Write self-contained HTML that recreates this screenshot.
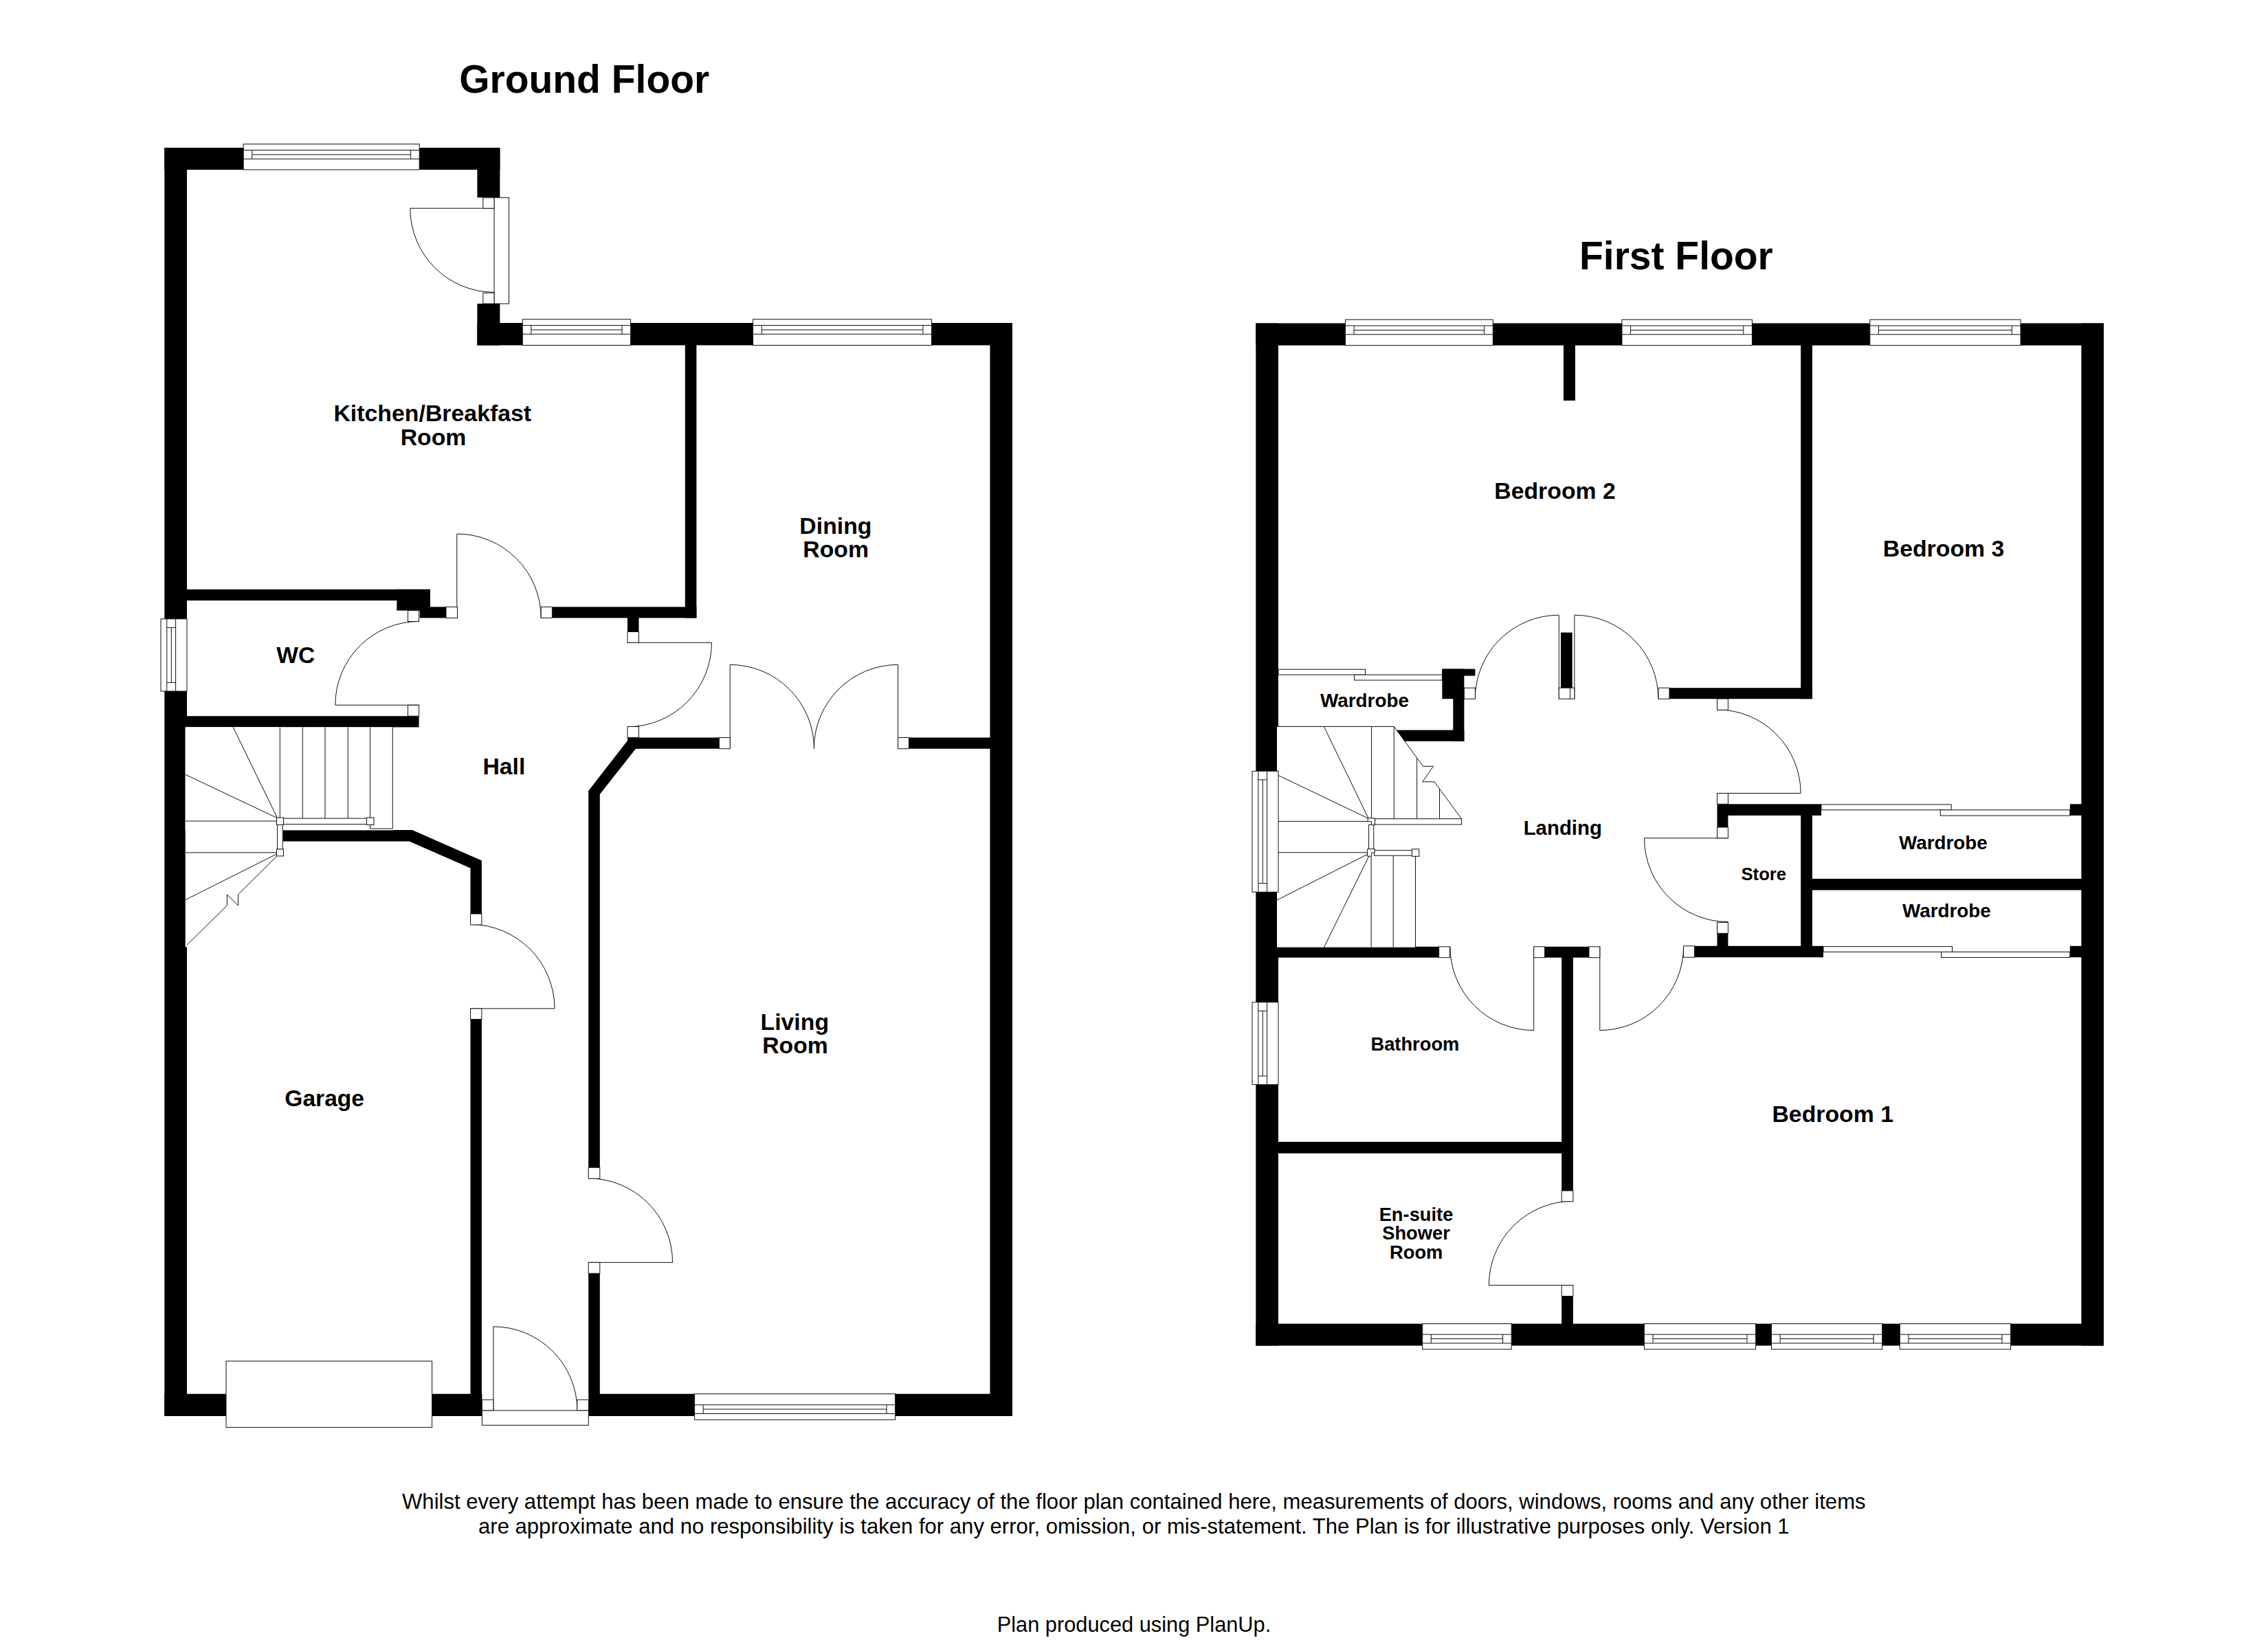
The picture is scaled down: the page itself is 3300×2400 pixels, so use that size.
<!DOCTYPE html>
<html><head><meta charset="utf-8"><title>Floor Plan</title>
<style>
html,body{margin:0;padding:0;background:#fff;}
body{width:3300px;height:2400px;overflow:hidden;}
svg{display:block;}
svg rect,svg polygon{fill:#000;}
svg .w{fill:#fff;}
svg .b{fill:#fff;stroke:#111;stroke-width:1.0;}
svg .l{fill:none;stroke:#111;stroke-width:1.0;}
svg text{font-family:"Liberation Sans",sans-serif;font-weight:bold;fill:#000;}
svg text.r{font-weight:normal;}
</style></head><body>
<svg width="3300" height="2400" viewBox="0 0 3300 2400">
<g id="ground">
<rect x="239.3" y="215" width="32.7" height="1846"/>
<rect x="239.3" y="215" width="488.1" height="32"/>
<rect x="694.4" y="215" width="33" height="72.7"/>
<rect x="694.4" y="442" width="33" height="60.5"/>
<rect x="694.4" y="470" width="778.6" height="32.5"/>
<rect x="1440.5" y="470" width="32.5" height="1591"/>
<rect x="239.3" y="2028.7" width="1233.7" height="32.3"/>
<rect x="996.8" y="501.5" width="16.6" height="397.9"/>
<rect x="803.4" y="883.3" width="210" height="16.1"/>
<rect x="271" y="857.8" width="355" height="16.2"/>
<rect x="577.3" y="857.8" width="48.7" height="30.8"/>
<rect x="610.8" y="883.3" width="38.2" height="16.1"/>
<rect x="913" y="899" width="16.5" height="20.5"/>
<rect x="913" y="1073.5" width="133.4" height="16.2"/>
<rect x="1322.5" y="1073.5" width="119" height="16.2"/>
<polygon points="913,1073.5 929.5,1073.5 929.5,1089.7 925,1089.7 872.8,1156 872.8,1700 856.2,1700 856.2,1151 913,1078"/>
<rect x="856.2" y="1853.3" width="16.6" height="176.4"/>
<rect x="271" y="1042.2" width="338.6" height="16.2"/>
<polygon points="411.7,1208 599.8,1208 700.9,1252.4 700.9,1330 684.5,1330 684.5,1263.4 595.5,1224.5 411.7,1224.5"/>
<rect x="684.5" y="1483.5" width="16.4" height="546.2"/>
</g>
<g id="gstairs">
<rect x="269.7" y="1058.4" width="302" height="150" class="w"/>
<rect x="269.7" y="1058.4" width="140" height="320" class="w"/>
<path class="l" d="M407.3 1058.4 L407.3 1191"/>
<path class="l" d="M440.3 1058.4 L440.3 1191"/>
<path class="l" d="M473 1058.4 L473 1191"/>
<path class="l" d="M506.2 1058.4 L506.2 1191"/>
<path class="l" d="M538.5 1058.4 L538.5 1206 L571.3 1206 L571.3 1058.4"/>
<path class="l" d="M403.6 1190.7 L339.2 1058.4"/>
<path class="l" d="M403.6 1190.7 L269.7 1127.3"/>
<path class="l" d="M269.7 1195 L402.5 1195"/>
<path class="l" d="M269.7 1240.9 L402.5 1240.9"/>
<path class="l" d="M402.5 1243 L269.7 1309.7"/>
<path class="l" d="M403.6 1245.2 L346.7 1301.7 L346.4 1317.9 L330.4 1302 L330.4 1317.9 L271.7 1375.6"/>
<rect class="b" x="412.5" y="1191.1" width="121" height="8.5"/>
<rect class="b" x="403.6" y="1200.5" width="7.6" height="35.5"/>
<rect class="b" x="402.5" y="1190" width="10" height="10.5"/>
<rect class="b" x="533.5" y="1190" width="10.5" height="10.5"/>
<rect class="b" x="402.5" y="1235.9" width="10" height="10"/>
</g>
<g id="gfix">
<rect class="b" x="354.2" y="209.7" width="256" height="37.3"/>
<path class="l" d="M354.2 218.5 L610.2 218.5"/>
<path class="l" d="M354.2 231.3 L610.2 231.3"/>
<path class="l" d="M366.8 218.5 L366.8 231.3"/>
<path class="l" d="M597.6 218.5 L597.6 231.3"/>
<path class="l" d="M366.8 225 L597.6 225"/>
<rect class="b" x="760.3" y="464.7" width="157.3" height="37.8"/>
<path class="l" d="M760.3 473.5 L917.6 473.5"/>
<path class="l" d="M760.3 486.3 L917.6 486.3"/>
<path class="l" d="M772.9 473.5 L772.9 486.3"/>
<path class="l" d="M905 473.5 L905 486.3"/>
<path class="l" d="M772.9 480 L905 480"/>
<rect class="b" x="1095.6" y="464.7" width="259.9" height="37.8"/>
<path class="l" d="M1095.6 473.5 L1355.5 473.5"/>
<path class="l" d="M1095.6 486.3 L1355.5 486.3"/>
<path class="l" d="M1108.2 473.5 L1108.2 486.3"/>
<path class="l" d="M1342.9 473.5 L1342.9 486.3"/>
<path class="l" d="M1108.2 480 L1342.9 480"/>
<rect class="b" x="1010.6" y="2028.7" width="292" height="37.6"/>
<path class="l" d="M1010.6 2057.5 L1302.6 2057.5"/>
<path class="l" d="M1010.6 2044.7 L1302.6 2044.7"/>
<path class="l" d="M1023.2 2057.5 L1023.2 2044.7"/>
<path class="l" d="M1290 2057.5 L1290 2044.7"/>
<path class="l" d="M1023.2 2051 L1290 2051"/>
<rect class="b" x="234" y="900.8" width="38" height="105.2"/>
<path class="l" d="M242.8 900.8 L242.8 1006"/>
<path class="l" d="M255.6 900.8 L255.6 1006"/>
<path class="l" d="M242.8 913.4 L255.6 913.4"/>
<path class="l" d="M242.8 993.4 L255.6 993.4"/>
<path class="l" d="M249.3 913.4 L249.3 993.4"/>
<rect class="b" x="329" y="1981" width="299.6" height="96.4"/>
<rect x="694" y="287.7" width="34" height="154.3" class="w"/>
<path class="l" d="M719 303.2 L596.8 303.2 A122.2 122.2 0 0 0 719 425.4"/>
<rect class="b" x="719" y="287.7" width="21.5" height="154.3"/>
<rect class="b" x="702.8" y="287.7" width="16.2" height="15.5"/>
<rect class="b" x="702.8" y="426.2" width="16.2" height="15.8"/>
<rect x="701.4" y="2028" width="154.9" height="34" class="w"/>
<path class="l" d="M717.9 2052.8 L717.9 1930.8 A122 122 0 0 1 839.9 2052.8"/>
<rect class="b" x="701.4" y="2052.8" width="154.9" height="21.5"/>
<rect class="b" x="701.4" y="2037.2" width="16.5" height="15.6"/>
<rect class="b" x="839.8" y="2037.2" width="16.5" height="15.6"/>
<path class="l" d="M664.8 899.4 L664.8 777 A122.4 122.4 0 0 1 787.2 899.4"/>
<rect class="b" x="649" y="883.3" width="16.5" height="16.1"/>
<rect class="b" x="787.2" y="883.3" width="16.2" height="16.1"/>
<path class="l" d="M609.6 1026.2 L487.8 1026.2 A121.8 121.8 0 0 1 609.6 904.4"/>
<rect class="b" x="593.5" y="888.6" width="16.1" height="15.9"/>
<rect class="b" x="593.5" y="1026.2" width="16.1" height="16"/>
<path class="l" d="M913 935.3 L1035.5 935.3 A122.5 122.5 0 0 1 913 1057.8"/>
<rect class="b" x="913" y="919.5" width="16.5" height="15.8"/>
<rect class="b" x="913" y="1057.5" width="16.5" height="16"/>
<path class="l" d="M1062.2 1089.7 L1062.2 967.4 A122.3 122.3 0 0 1 1184.5 1089.7"/>
<path class="l" d="M1306.6 1089.7 L1306.6 967.4 A122.3 122.3 0 0 0 1184.3 1089.7"/>
<rect class="b" x="1046.4" y="1073.5" width="15.8" height="16.2"/>
<rect class="b" x="1306.6" y="1073.5" width="15.9" height="16.2"/>
<path class="l" d="M856.2 1837.4 L978.6 1837.4 A122.4 122.4 0 0 0 856.2 1715"/>
<rect class="b" x="856.2" y="1699.2" width="16.6" height="16.2"/>
<rect class="b" x="856.2" y="1837.4" width="16.6" height="15.9"/>
<path class="l" d="M684.5 1467.9 L807 1467.9 A122.5 122.5 0 0 0 684.5 1345.4"/>
<rect class="b" x="684.5" y="1330" width="16.4" height="16"/>
<rect class="b" x="684.5" y="1467.9" width="16.4" height="15.6"/>
</g>
<g id="first">
<rect x="1827.3" y="470.5" width="32.7" height="1488"/>
<rect x="1827.3" y="470.5" width="1233.7" height="32.2"/>
<rect x="3028.4" y="470.5" width="32.6" height="1488"/>
<rect x="1827.3" y="1926.6" width="1233.7" height="31.9"/>
<rect x="2275" y="501.7" width="17" height="81.3"/>
<rect x="2620.2" y="501.7" width="16.7" height="515.5"/>
<rect x="2429" y="1001.2" width="207.9" height="16"/>
<rect x="2271" y="920.6" width="16.7" height="80.9"/>
<rect x="2098.4" y="973.6" width="48" height="10"/>
<rect x="2098.4" y="973.6" width="32" height="43.6"/>
<rect x="2114.3" y="1016" width="16.1" height="62.8"/>
<rect x="2028" y="1062.6" width="102.4" height="16.2"/>
<rect x="2498.5" y="1170.3" width="151.5" height="16.6"/>
<rect x="2498.5" y="1186" width="15.9" height="18"/>
<rect x="2620.2" y="1186" width="16.7" height="192"/>
<rect x="2636" y="1279" width="393.4" height="16.5"/>
<rect x="3011.8" y="1170.3" width="17.6" height="16.6"/>
<rect x="3011.8" y="1376.8" width="17.6" height="16.5"/>
<rect x="2498.5" y="1358.4" width="15.9" height="19.6"/>
<rect x="2465.5" y="1376.8" width="187.5" height="16.5"/>
<rect x="1859" y="1377.8" width="234.7" height="15.9"/>
<rect x="2247.6" y="1377.8" width="64.4" height="15.9"/>
<rect x="2272.2" y="1393" width="16.7" height="340"/>
<rect x="2272.2" y="1886.5" width="16.7" height="41.1"/>
<rect x="1859" y="1661.9" width="414" height="16.7"/>
</g>
<g id="fstairs">
<polygon class="w" points="1858,1057.5 2028.3,1057.5 2126.6,1191.7 2126.6,1200 2060,1200 2060,1378.8 1858,1378.8"/>
<path class="l" d="M1858 1057.5 L2028.3 1057.5 L2070.6 1115.3 L2085.5 1115.3 L2069.8 1137.8 L2087 1137.8 L2126.6 1191.7"/>
<path class="l" d="M1995.6 1057.5 L1995.6 1190.5"/>
<path class="l" d="M2028.3 1057.5 L2028.3 1191.5"/>
<path class="l" d="M2061.7 1103.5 L2061.7 1191.5"/>
<path class="l" d="M2094.5 1148 L2094.5 1191.5"/>
<path class="l" d="M1991.2 1191.3 L1926.4 1057.5"/>
<path class="l" d="M1991.2 1191.3 L1859.8 1128.4"/>
<path class="l" d="M1859.8 1195.4 L1990.1 1195.4"/>
<path class="l" d="M1859.8 1240.8 L1990.1 1240.8"/>
<path class="l" d="M1990.5 1243 L1858 1310"/>
<path class="l" d="M1992.3 1245.2 L1926.4 1378.8"/>
<path class="l" d="M1995.1 1246 L1995.1 1378.8"/>
<path class="l" d="M2027.2 1245.2 L2027.2 1378.8"/>
<path class="l" d="M2059.5 1246 L2059.5 1378.8"/>
<rect class="b" x="2000.4" y="1191.7" width="126.2" height="8.3"/>
<rect class="b" x="1991.6" y="1200.5" width="7.2" height="35.5"/>
<polygon class="b" points="1990.2,1190.8 2000.6,1190.8 2000.6,1200.6 1995.4,1200.6 1995.4,1195.7 1990.2,1195.7"/>
<rect class="b" x="1999.5" y="1237.6" width="55" height="7.6"/>
<polygon class="b" points="1989.6,1235.6 2000.2,1235.6 2000.2,1241 1995.4,1241 1995.4,1246.2 1989.6,1246.2"/>
<rect class="b" x="2054.5" y="1235.8" width="10.3" height="10.5"/>
</g>
<g id="ffix">
<rect class="b" x="1957.5" y="465.2" width="214.8" height="37.5"/>
<path class="l" d="M1957.5 474 L2172.3 474"/>
<path class="l" d="M1957.5 486.8 L2172.3 486.8"/>
<path class="l" d="M1970.1 474 L1970.1 486.8"/>
<path class="l" d="M2159.7 474 L2159.7 486.8"/>
<path class="l" d="M1970.1 480.5 L2159.7 480.5"/>
<rect class="b" x="2360" y="465.2" width="189.4" height="37.5"/>
<path class="l" d="M2360 474 L2549.4 474"/>
<path class="l" d="M2360 486.8 L2549.4 486.8"/>
<path class="l" d="M2372.6 474 L2372.6 486.8"/>
<path class="l" d="M2536.8 474 L2536.8 486.8"/>
<path class="l" d="M2372.6 480.5 L2536.8 480.5"/>
<rect class="b" x="2720.8" y="465.2" width="219.2" height="37.5"/>
<path class="l" d="M2720.8 474 L2940 474"/>
<path class="l" d="M2720.8 486.8 L2940 486.8"/>
<path class="l" d="M2733.4 474 L2733.4 486.8"/>
<path class="l" d="M2927.4 474 L2927.4 486.8"/>
<path class="l" d="M2733.4 480.5 L2927.4 480.5"/>
<rect class="b" x="2069.7" y="1926.6" width="129.5" height="37.2"/>
<path class="l" d="M2069.7 1955 L2199.2 1955"/>
<path class="l" d="M2069.7 1942.2 L2199.2 1942.2"/>
<path class="l" d="M2082.3 1955 L2082.3 1942.2"/>
<path class="l" d="M2186.6 1955 L2186.6 1942.2"/>
<path class="l" d="M2082.3 1948.5 L2186.6 1948.5"/>
<rect class="b" x="2392.4" y="1926.6" width="162.2" height="37.2"/>
<path class="l" d="M2392.4 1955 L2554.6 1955"/>
<path class="l" d="M2392.4 1942.2 L2554.6 1942.2"/>
<path class="l" d="M2405 1955 L2405 1942.2"/>
<path class="l" d="M2542 1955 L2542 1942.2"/>
<path class="l" d="M2405 1948.5 L2542 1948.5"/>
<rect class="b" x="2577.5" y="1926.6" width="161.2" height="37.2"/>
<path class="l" d="M2577.5 1955 L2738.7 1955"/>
<path class="l" d="M2577.5 1942.2 L2738.7 1942.2"/>
<path class="l" d="M2590.1 1955 L2590.1 1942.2"/>
<path class="l" d="M2726.1 1955 L2726.1 1942.2"/>
<path class="l" d="M2590.1 1948.5 L2726.1 1948.5"/>
<rect class="b" x="2764.3" y="1926.6" width="161.3" height="37.2"/>
<path class="l" d="M2764.3 1955 L2925.6 1955"/>
<path class="l" d="M2764.3 1942.2 L2925.6 1942.2"/>
<path class="l" d="M2776.9 1955 L2776.9 1942.2"/>
<path class="l" d="M2913 1955 L2913 1942.2"/>
<path class="l" d="M2776.9 1948.5 L2913 1948.5"/>
<rect class="b" x="1822" y="1122.3" width="38" height="176"/>
<path class="l" d="M1830.8 1122.3 L1830.8 1298.3"/>
<path class="l" d="M1843.6 1122.3 L1843.6 1298.3"/>
<path class="l" d="M1830.8 1134.9 L1843.6 1134.9"/>
<path class="l" d="M1830.8 1285.7 L1843.6 1285.7"/>
<path class="l" d="M1837.3 1134.9 L1837.3 1285.7"/>
<rect class="b" x="1822" y="1458.7" width="38" height="119.9"/>
<path class="l" d="M1830.8 1458.7 L1830.8 1578.6"/>
<path class="l" d="M1843.6 1458.7 L1843.6 1578.6"/>
<path class="l" d="M1830.8 1471.3 L1843.6 1471.3"/>
<path class="l" d="M1830.8 1566 L1843.6 1566"/>
<path class="l" d="M1837.3 1471.3 L1837.3 1566"/>
<rect class="b" x="1860" y="974.2" width="126.5" height="7.9"/>
<rect class="b" x="1970.6" y="982.1" width="127.8" height="7.9"/>
<rect class="b" x="2650" y="1170.9" width="189.2" height="7.9"/>
<rect class="b" x="2823.3" y="1178.8" width="188.5" height="8.3"/>
<rect class="b" x="2653" y="1377.6" width="187.5" height="7.9"/>
<rect class="b" x="2824.6" y="1385.5" width="187.2" height="8"/>
<path class="l" d="M2268.3 1017.2 L2268.3 895.2 A122 122 0 0 0 2146.3 1017.2"/>
<path class="l" d="M2290.9 1017.2 L2290.9 895.2 A122 122 0 0 1 2412.9 1017.2"/>
<rect class="b" x="2130.4" y="1001.2" width="16" height="16"/>
<rect class="b" x="2268.3" y="1001.2" width="16.3" height="16"/>
<rect class="b" x="2284.6" y="1001.2" width="6.3" height="16"/>
<rect class="b" x="2413" y="1001.2" width="16" height="16"/>
<path class="l" d="M2498.5 1154.5 L2620.1 1154.5 A121.6 121.6 0 0 0 2498.5 1032.9"/>
<rect class="b" x="2498.5" y="1017" width="15.9" height="16.3"/>
<rect class="b" x="2498.5" y="1154.5" width="15.9" height="15.8"/>
<path class="l" d="M2514.4 1219.8 L2392.5 1219.8 A121.9 121.9 0 0 0 2514.4 1341.7"/>
<rect class="b" x="2498.5" y="1204" width="15.9" height="15.8"/>
<rect class="b" x="2498.5" y="1342.4" width="15.9" height="16"/>
<path class="l" d="M2231.7 1377.8 L2231.7 1499.6 A121.8 121.8 0 0 1 2109.9 1377.8"/>
<rect class="b" x="2093.7" y="1377.8" width="15.9" height="15.9"/>
<rect class="b" x="2231.7" y="1377.8" width="15.9" height="15.9"/>
<path class="l" d="M2327.8 1377.8 L2327.8 1499.6 A121.8 121.8 0 0 0 2449.6 1377.8"/>
<rect class="b" x="2312" y="1377.8" width="15.8" height="15.9"/>
<rect class="b" x="2449.6" y="1376.8" width="15.9" height="16.5"/>
<path class="l" d="M2288.9 1870.6 L2166.4 1870.6 A122.5 122.5 0 0 1 2288.9 1748.1"/>
<rect class="b" x="2272.2" y="1733" width="16.7" height="15.8"/>
<rect class="b" x="2272.2" y="1870.6" width="16.7" height="15.9"/>
</g>
<g id="labels" text-anchor="middle">
<text x="850.2" y="135.3" font-size="57" textLength="364" lengthAdjust="spacingAndGlyphs">Ground Floor</text>
<text x="2438.9" y="392" font-size="57" textLength="281.8" lengthAdjust="spacingAndGlyphs">First Floor</text>
<text x="629.3" y="612.5" font-size="33.8" textLength="287.7" lengthAdjust="spacingAndGlyphs">Kitchen/Breakfast</text>
<text x="630.5" y="647.5" font-size="33.8">Room</text>
<text x="1215.9" y="777" font-size="33.8">Dining</text>
<text x="1216.2" y="810.6" font-size="33.8">Room</text>
<text x="430.2" y="965.2" font-size="33.6">WC</text>
<text x="733.4" y="1126.6" font-size="33.8">Hall</text>
<text x="472.2" y="1609.5" font-size="33.6">Garage</text>
<text x="1156.3" y="1498.6" font-size="33.8">Living</text>
<text x="1157" y="1533" font-size="33.8">Room</text>
<text x="2262.5" y="726.4" font-size="33.8">Bedroom 2</text>
<text x="2828" y="810" font-size="33.8">Bedroom 3</text>
<text x="2666.7" y="1632.5" font-size="33.8">Bedroom 1</text>
<text x="1985.5" y="1028.8" font-size="27.9">Wardrobe</text>
<text x="2273.8" y="1215" font-size="29.4">Landing</text>
<text x="2566.3" y="1281" font-size="25.7">Store</text>
<text x="2827.4" y="1235.9" font-size="27.8">Wardrobe</text>
<text x="2832.4" y="1335.3" font-size="27.8">Wardrobe</text>
<text x="2058.9" y="1528.6" font-size="27.3">Bathroom</text>
<text x="2060.5" y="1777.1" font-size="27.3">En-suite</text>
<text x="2060.5" y="1804.3" font-size="27.3">Shower</text>
<text x="2060.7" y="1832.1" font-size="27.3">Room</text>
<text x="1649.8" y="2196.1" font-size="31.1" class="r" textLength="2129.5" lengthAdjust="spacingAndGlyphs">Whilst every attempt has been made to ensure the accuracy of the floor plan contained here, measurements of doors, windows, rooms and any other items</text>
<text x="1649.8" y="2232.1" font-size="31.1" class="r" textLength="1907.6" lengthAdjust="spacingAndGlyphs">are approximate and no responsibility is taken for any error, omission, or mis-statement. The Plan is for illustrative purposes only. Version 1</text>
<text x="1650" y="2375" font-size="30.8" class="r" textLength="398.5" lengthAdjust="spacingAndGlyphs">Plan produced using PlanUp.</text>
</g>
</svg>
</body></html>
